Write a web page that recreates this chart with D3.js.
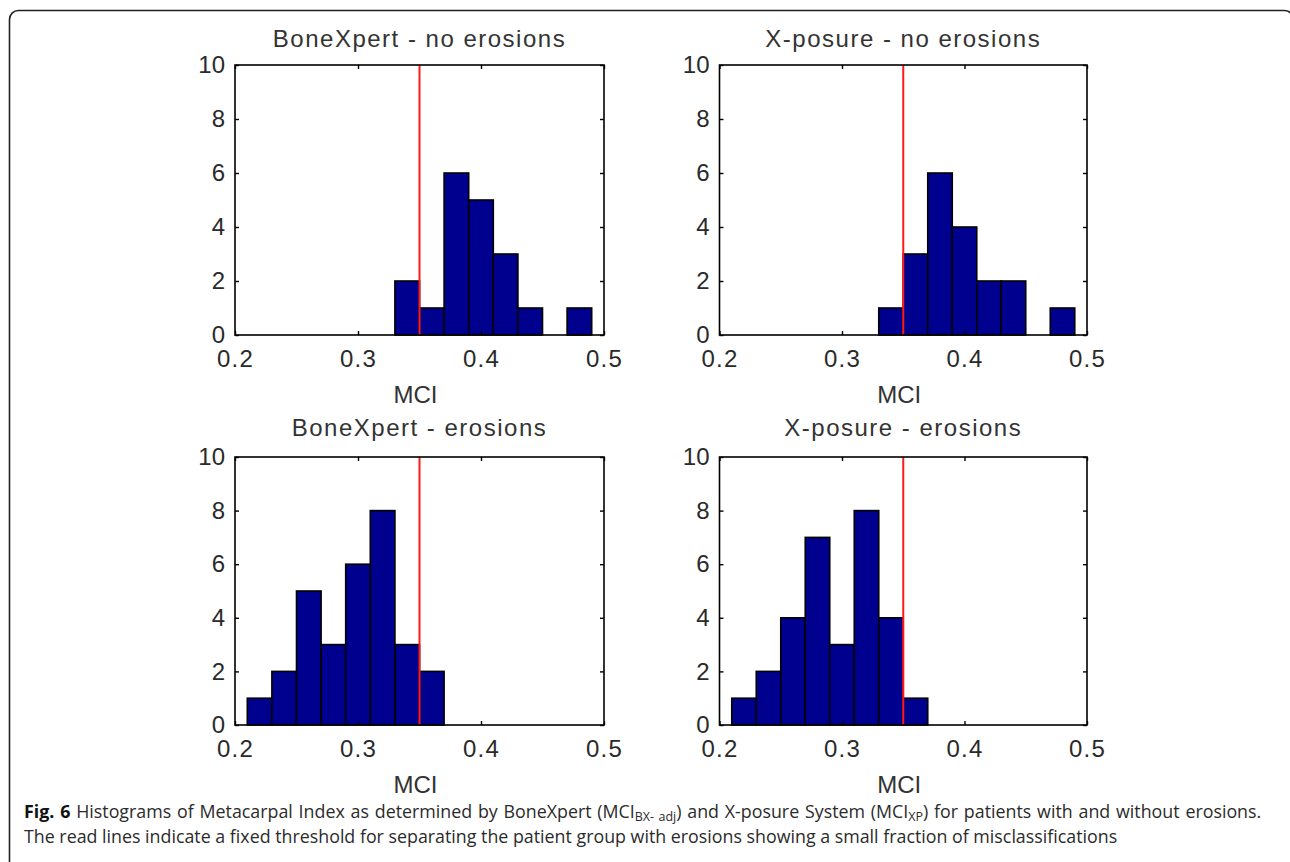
<!DOCTYPE html>
<html>
<head>
<meta charset="utf-8">
<script src="https://cdn.jsdelivr.net/npm/d3@7"></script>
<style>
  html, body { margin: 0; padding: 0; background: #fff; }
  svg { display: block; }
</style>
</head>
<body>
<svg id="chart" width="1290" height="862"></svg>
<script>
// ---- data ----
const binCenters = [0.22, 0.24, 0.26, 0.28, 0.30, 0.32, 0.34, 0.36, 0.38, 0.40, 0.42, 0.44, 0.46, 0.48];
const binWidth = 0.02;
const countsBoneXpertNoErosions = [0, 0, 0, 0, 0, 0, 2, 1, 6, 5, 3, 1, 0, 1];
const countsXposureNoErosions   = [0, 0, 0, 0, 0, 0, 1, 3, 6, 4, 2, 2, 0, 1];
const countsBoneXpertErosions   = [1, 2, 5, 3, 6, 8, 3, 2, 0, 0, 0, 0, 0, 0];
const countsXposureErosions     = [1, 2, 4, 7, 3, 8, 4, 1, 0, 0, 0, 0, 0, 0];
const panelTitles = ["BoneXpert - no erosions", "X-posure - no erosions", "BoneXpert - erosions", "X-posure - erosions"];
const threshold = 0.35;
const xTicks = [0.2, 0.3, 0.4, 0.5];
const yTicks = [0, 2, 4, 6, 8, 10];
const xDomain = [0.2, 0.5];
const yDomain = [0, 10];
const xLabel = "MCI";

// ---- layout ----
const panels = [
  { counts: countsBoneXpertNoErosions, title: panelTitles[0], x0: 235,   x1: 604,  y0: 65,  y1: 335, titleGap: 18 },
  { counts: countsXposureNoErosions,   title: panelTitles[1], x0: 719.5, x1: 1087, y0: 65,  y1: 335, titleGap: 18 },
  { counts: countsBoneXpertErosions,   title: panelTitles[2], x0: 235,   x1: 604,  y0: 457, y1: 725, titleGap: 21 },
  { counts: countsXposureErosions,     title: panelTitles[3], x0: 719.5, x1: 1087, y0: 457, y1: 725, titleGap: 21 }
];

const svg = d3.select("#chart");
const axisFont = "'Liberation Sans', Arial, sans-serif";
const textColor = "#2a2a2a";

// outer rounded frame
svg.append("rect")
  .attr("x", 9.5).attr("y", 10.5)
  .attr("width", 1284).attr("height", 860)
  .attr("rx", 9).attr("ry", 9)
  .attr("fill", "none").attr("stroke", "#222").attr("stroke-width", 1.6);

panels.forEach(p => {
  const x = d3.scaleLinear().domain(xDomain).range([p.x0, p.x1]);
  const y = d3.scaleLinear().domain(yDomain).range([p.y1, p.y0]);
  const g = svg.append("g");

  // bars
  const data = binCenters.map((c, i) => ({ c, n: p.counts[i] })).filter(d => d.n > 0);
  g.selectAll("rect.bar").data(data).enter().append("rect")
    .attr("class", "bar")
    .attr("x", d => x(d.c - binWidth / 2))
    .attr("width", d => x(d.c + binWidth / 2) - x(d.c - binWidth / 2))
    .attr("y", d => y(d.n))
    .attr("height", d => y(0) - y(d.n))
    .attr("fill", "#00008f")
    .attr("stroke", "#000")
    .attr("stroke-width", 1.6);

  // threshold line
  g.append("line")
    .attr("x1", x(threshold)).attr("x2", x(threshold))
    .attr("y1", y(yDomain[1])).attr("y2", y(yDomain[0]))
    .attr("stroke", "#ff1a1a").attr("stroke-width", 2);

  // axes (inward ticks)
  const tick = 4;
  const bottom = g.append("g").attr("transform", `translate(0,${p.y1})`)
    .call(d3.axisBottom(x).tickValues(xTicks).tickFormat(d3.format(".1f")).tickSizeInner(-tick).tickSizeOuter(0).tickPadding(15));
  const top = g.append("g").attr("transform", `translate(0,${p.y0})`)
    .call(d3.axisTop(x).tickValues(xTicks).tickFormat("").tickSizeInner(-tick).tickSizeOuter(0));
  const left = g.append("g").attr("transform", `translate(${p.x0},0)`)
    .call(d3.axisLeft(y).tickValues(yTicks).tickFormat(d3.format("d")).tickSizeInner(-tick).tickSizeOuter(0).tickPadding(10));
  const right = g.append("g").attr("transform", `translate(${p.x1},0)`)
    .call(d3.axisRight(y).tickValues(yTicks).tickFormat("").tickSizeInner(-tick).tickSizeOuter(0));

  [bottom, top, left, right].forEach(a => {
    a.select(".domain").remove();
    a.selectAll(".tick line").attr("stroke", "#000").attr("stroke-width", 1.4);
  });
  bottom.selectAll(".tick text")
    .attr("font-family", axisFont).attr("font-size", 24).attr("fill", textColor)
    .attr("letter-spacing", "1.2px");
  left.selectAll(".tick text")
    .attr("font-family", axisFont).attr("font-size", 24).attr("fill", textColor);

  // box
  g.append("rect")
    .attr("x", p.x0).attr("y", p.y0)
    .attr("width", p.x1 - p.x0).attr("height", p.y1 - p.y0)
    .attr("fill", "none").attr("stroke", "#000").attr("stroke-width", 1.6);

  // title
  g.append("text")
    .attr("x", (p.x0 + p.x1) / 2).attr("y", p.y0 - p.titleGap)
    .attr("text-anchor", "middle")
    .attr("font-family", axisFont).attr("font-size", 24)
    .attr("letter-spacing", "1.5px")
    .attr("fill", "#333")
    .text(p.title);

  // x label
  g.append("text")
    .attr("x", (p.x0 + p.x1) / 2 - 4).attr("y", p.y1 + 68)
    .attr("text-anchor", "middle")
    .attr("font-family", axisFont).attr("font-size", 24)
    .attr("fill", "#333")
    .text(xLabel);
});

// ---- caption ----
const capFont = "'Open Sans', 'Noto Sans', sans-serif";
const capColor = "#2b2b2b";
const capX = 24;
const cap = svg.append("g").attr("font-family", capFont).attr("fill", capColor);
const line1 = cap.append("text").attr("x", capX).attr("y", 818).attr("font-size", 16);
line1.append("tspan").attr("font-weight", "bold").attr("fill", "#111").text("Fig. 6");
line1.append("tspan").text(" Histograms of Metacarpal Index as determined by BoneXpert (MCI");
line1.append("tspan").attr("class", "sub").attr("font-size", 11).attr("dy", 3).text("BX-\u00a0adj");
line1.append("tspan").attr("dy", -3).text(") and X-posure System (MCI");
line1.append("tspan").attr("class", "sub").attr("font-size", 11).attr("dy", 3).text("XP");
line1.append("tspan").attr("dy", -3).text(") for patients with and without erosions.");
const line2 = cap.append("text").attr("x", capX).attr("y", 843).attr("font-size", 16)
  .text("The read lines indicate a fixed threshold for separating the patient group with erosions showing a small fraction of misclassifications");

// size caption so the last (unjustified) line matches, then justify line 1
const line2Target = 1118 - capX, line1Target = 1260 - capX;
const fs = 16 * line2Target / line2.node().getComputedTextLength();
line2.attr("font-size", fs);
line1.attr("font-size", fs);
line1.selectAll("tspan.sub").attr("font-size", fs * 0.7);
const w1 = line1.node().getComputedTextLength();
const nSpaces = (line1.text().match(/ /g) || []).length;
line1.attr("word-spacing", Math.max(0, (line1Target - w1) / nSpaces));
</script>
</body>
</html>
